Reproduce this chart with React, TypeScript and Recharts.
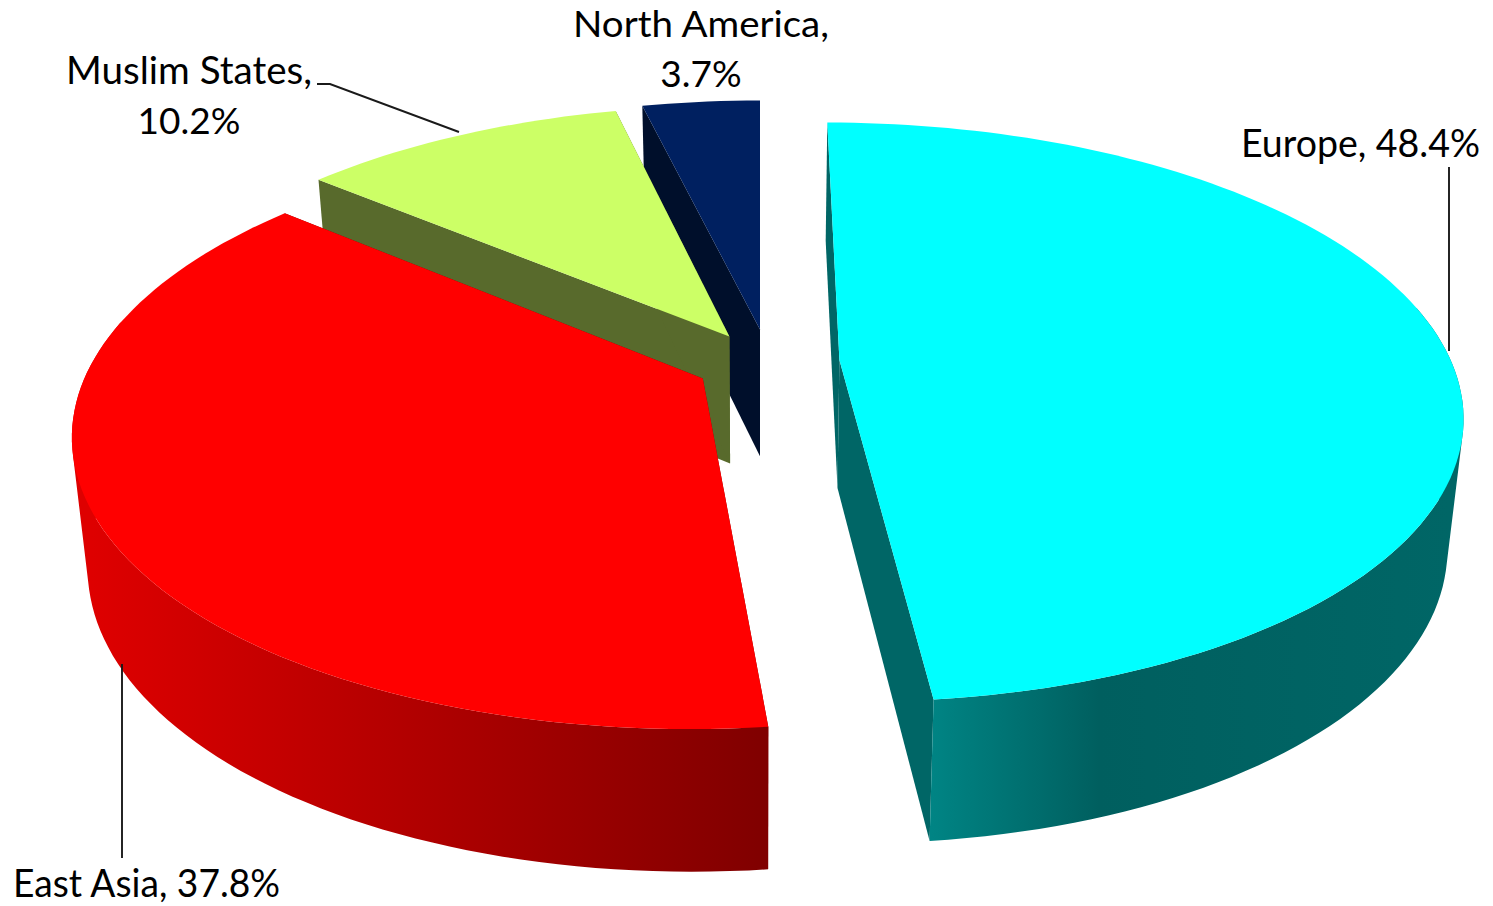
import React from "react";
import { PieChart, Pie } from "recharts";

// Data, in painting order (far slices first)
const categories = ["North America", "Muslim States", "East Asia", "Europe"];
const shares = [3.7, 10.2, 37.8, 48.4];

// Styling of each slice
const topColors = ["#002060", "#CCFF66", "#FF0000", "#00FFFF"];
const cutColors = ["#000F2B", "#586A2C", "#800000", "#006666"];
const explodeAmounts = [0.118, 0.105, 0.109, 0.13];
const explodeDirections = [0, 331, 238, 87];
const wallStops: [number, string][][] = [
  [[0, "#000F2B"], [1, "#000F2B"]],
  [[0, "#586A2C"], [1, "#586A2C"]],
  [[0, "#DE0000"], [1, "#800000"]],
  [[0, "#008585"], [0.33, "#005F5F"], [1, "#006666"]],
];
const wallSpans = [[640, 760], [317, 730], [92, 766], [927, 1450]];

const chartData = categories.map((name, i) => ({ name, value: shares[i] }));

// Projection of the tilted disc
const PERSPECTIVE = 0.18;
const TILT = 0.459;
const THICKNESS = 128;
const BOTTOM_X = 0.977;
const BOTTOM_Y = 1.04;
const rad = (d: number) => (d * Math.PI) / 180;
type Pt = [number, number];

function makeProjector(cx: number, cy: number, R: number, amount: number, dir: number) {
  const ox = amount * Math.sin(rad(dir));
  const oz = amount * Math.cos(rad(dir));
  return (t: number | null, bottom: boolean): Pt => {
    const x = ox + (t === null ? 0 : Math.sin(rad(t)));
    const z = oz + (t === null ? 0 : Math.cos(rad(t)));
    const w = 1 + PERSPECTIVE * z;
    const sx = (R * x) / w;
    const sy = (-R * TILT * z) / w;
    return bottom
      ? [cx + sx * BOTTOM_X, cy + THICKNESS + sy * BOTTOM_Y]
      : [cx + sx, cy + sy];
  };
}

const toPath = (pts: Pt[]) =>
  "M" + pts.map((p) => `${p[0].toFixed(1)},${p[1].toFixed(1)}`).join("L") + "Z";

// Every subpath gets the same winding so the folded band fills as a union.
function orient(pts: Pt[]): Pt[] {
  let area = 0;
  pts.forEach((p, k) => {
    const q = pts[(k + 1) % pts.length];
    area += p[0] * q[1] - q[0] * p[1];
  });
  return area < 0 ? [...pts].reverse() : pts;
}

function Slice3D(props: any) {
  const { cx, cy, outerRadius, startAngle, endAngle, name } = props;
  const i = categories.indexOf(name);
  const project = makeProjector(cx, cy, outerRadius, explodeAmounts[i], explodeDirections[i]);
  // Recharts angles run counter-clockwise from 3 o'clock; t runs clockwise from 12.
  const t0 = 90 - Math.max(startAngle, endAngle);
  const t1 = 90 - Math.min(startAngle, endAngle);
  const a0 = ((t0 % 360) + 360) % 360;
  const steps = Math.max(8, Math.ceil((t1 - t0) / 1.5));
  const ts: number[] = [];
  for (let s = 0; s <= steps; s++) ts.push(a0 + ((t1 - t0) * s) / steps);

  const topArc = ts.map((t) => project(t, false));
  const botArc = ts.map((t) => project(t, true));
  const apexT = project(null, false);
  const apexB = project(null, true);
  // The far part of the outer wall is never seen, so only the near part is drawn.
  const band = ts
    .slice(0, steps)
    .map((t, s) =>
      Math.cos(rad(t)) < 0.2
        ? toPath(orient([topArc[s], topArc[s + 1], botArc[s + 1], botArc[s]]))
        : ""
    )
    .join("");
  const gid = `wall-${i}`;
  return (
    <g>
      <defs>
        <linearGradient id={gid} gradientUnits="userSpaceOnUse" x1={wallSpans[i][0]} x2={wallSpans[i][1]} y1={0} y2={0}>
          {wallStops[i].map(([o, c], k) => (
            <stop key={k} offset={o} stopColor={c} />
          ))}
        </linearGradient>
      </defs>
      <path d={toPath([apexT, topArc[0], botArc[0], apexB])} fill={cutColors[i]} />
      <path d={toPath([apexT, topArc[steps], botArc[steps], apexB])} fill={cutColors[i]} />
      {band ? <path d={band} fill={`url(#${gid})`} fillRule="nonzero" /> : null}
      <path d={toPath([apexT, ...topArc])} fill={topColors[i]} />
    </g>
  );
}

const labelFont = { fontFamily: "Lato, sans-serif", fill: "#000", lengthAdjust: "spacingAndGlyphs" };
const leader = { fill: "none", stroke: "#1a1a1a", strokeWidth: 1.9 };

function SliceLabel(props: any) {
  const { name, value } = props;
  const pct = `${value.toFixed(1)}%`;
  if (name === "Europe")
    return (
      <g>
        <polyline points="1449,167 1449,351" {...leader} />
        <text x={1241} y={157} fontSize={38} textLength={239} {...labelFont}>{`${name}, ${pct}`}</text>
      </g>
    );
  if (name === "East Asia")
    return (
      <g>
        <polyline points="122,858 122,664" {...leader} />
        <text x={13} y={897} fontSize={38} textLength={267} {...labelFont}>{`${name}, ${pct}`}</text>
      </g>
    );
  if (name === "Muslim States")
    return (
      <g>
        <polyline points="317,84 330,84 459,132" {...leader} />
        <text x={66} y={84} fontSize={38.5} textLength={246} {...labelFont}>{`${name},`}</text>
        <text x={189} y={134} fontSize={37} textAnchor="middle" fontFamily="Lato, sans-serif" fill="#000">{pct}</text>
      </g>
    );
  return (
    <g>
      <text x={573} y={37} fontSize={37} textLength={256} {...labelFont}>{`${name},`}</text>
      <text x={701} y={87} fontSize={37} textAnchor="middle" fontFamily="Lato, sans-serif" fill="#000">{pct}</text>
    </g>
  );
}

export default function App() {
  return (
    <div style={{ position: "absolute", left: 0, top: 0, width: 1493, height: 906, background: "#fff" }}>
      <PieChart width={1493} height={906} margin={{ top: 0, right: 0, bottom: 0, left: 0 }}>
        <Pie
          data={chartData}
          dataKey="value"
          nameKey="name"
          cx={760}
          cy={362}
          innerRadius={0}
          outerRadius={612}
          startAngle={90}
          endAngle={450}
          stroke="none"
          isAnimationActive={false}
          shape={Slice3D}
          label={SliceLabel}
          labelLine={false}
        />
      </PieChart>
    </div>
  );
}
